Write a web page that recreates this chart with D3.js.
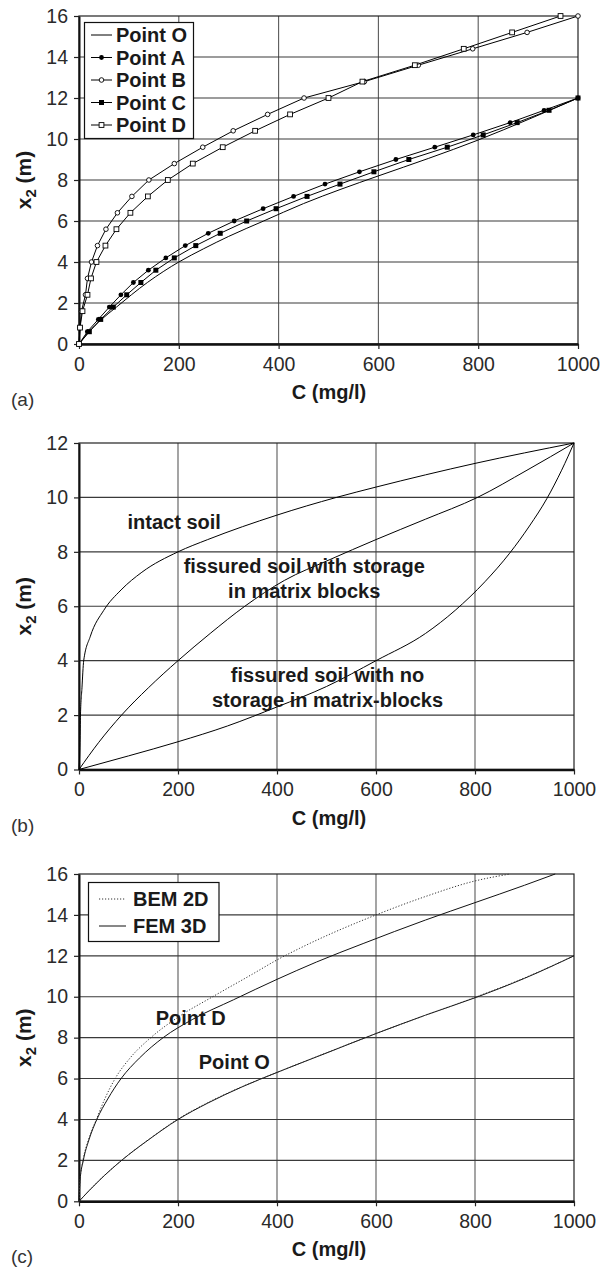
<!DOCTYPE html>
<html>
<head>
<meta charset="utf-8">
<script src="https://cdn.jsdelivr.net/npm/d3@7"></script>
<style>
  body { margin: 0; background: #fff; }
  text { font-family: "Liberation Sans", Arial, sans-serif; }
</style>
</head>
<body>
<svg id="chart"></svg>
<script>
// ---- data ----
const xTicks = [0, 200, 400, 600, 800, 1000];
const yTicks16 = [0, 2, 4, 6, 8, 10, 12, 14, 16];
const yTicks12 = [0, 2, 4, 6, 8, 10, 12];

// (a) five observation points, [C, x2]
const aPointO = [[0,0],[20,0.6],[45,1.2],[75,1.8],[105,2.4],[137,3],[170,3.55],[200,4],[250,4.65],[300,5.25],[370,6],[450,6.85],[525,7.55],[600,8.2],[700,9.05],[800,9.95],[900,10.95],[1000,12]];
const aPointA = [[0,0],[16.7,0.6],[38.7,1.2],[60.7,1.8],[84,2.4],[109,3],[139,3.6],[174,4.2],[213,4.8],[259,5.4],[311,6],[369,6.6],[430,7.2],[493,7.8],[562,8.4],[635,9],[713,9.6],[790,10.2],[864,10.8],[932,11.4],[1000,12]];
const aPointB = [[0,0],[2,0.8],[5,1.6],[13,2.4],[17,3.2],[25,4],[37,4.8],[54,5.6],[77,6.4],[106,7.2],[140,8],[191,8.8],[248,9.6],[309,10.4],[378,11.2],[451,12],[572,12.8],[680,13.6],[789,14.4],[898,15.2],[1000,16]];
const aPointC = [[0,0],[20.7,0.6],[43.5,1.2],[68.7,1.8],[95.6,2.4],[124,3],[154,3.6],[191,4.2],[234,4.8],[283,5.4],[336,6],[395,6.6],[457,7.2],[523,7.8],[591,8.4],[661,9],[738,9.6],[810,10.2],[878,10.8],[942,11.4],[1000,12]];
const aPointD = [[0,0],[2,0.8],[7,1.6],[17,2.4],[24,3.2],[35,4],[53,4.8],[75,5.6],[103,6.4],[138,7.2],[178,8],[228,8.8],[288,9.6],[353,10.4],[423,11.2],[500,12],[568,12.8],[673,13.6],[771,14.4],[868,15.2],[965,16]];
const aNames = ["Point O", "Point A", "Point B", "Point C", "Point D"];

// (b) soil types
const bIntact = [[0,0],[2,1],[3,2],[6,3],[9.5,4],[23,4.9],[50,5.85],[85,6.6],[127,7.25],[200,8],[260,8.45],[400,9.35],[520,10],[600,10.38],[800,11.25],[1000,12]];
const bStorage = [[0,0],[40,1],[86,2],[140,3],[200,4],[265,5],[335,6],[415,6.95],[505,7.7],[600,8.45],[700,9.2],[805,10],[905,11],[1000,12]];
const bNoStorage = [[0,0],[100,0.5],[200,1.02],[300,1.6],[400,2.3],[500,3.05],[600,4],[700,5.0],[760,5.85],[820,6.9],[870,7.95],[910,8.95],[945,9.95],[975,11],[1000,12]];

// (c) BEM 2D vs FEM 3D
const cFemO = [[0,0],[40,1],[86,2],[140,3],[200,4],[260,4.8],[330,5.6],[400,6.3],[500,7.25],[600,8.2],[700,9.1],[800,9.95],[900,10.9],[1000,12]];
const cBemO = [[0,0],[40,1],[86,2],[140,3],[200,4.02],[260,4.82],[330,5.61],[400,6.3],[500,7.26],[600,8.2],[700,9.1],[800,9.97],[900,10.92],[1000,12]];
const cFemD = [[0,0],[2,1],[8.7,2],[20,3],[36,4],[58,5],[85,6],[122,7],[170,8],[230,8.9],[312,9.85],[400,10.85],[480,11.7],[574,12.6],[700,13.75],[800,14.6],[900,15.45],[962,16]];
const cBemD = [[0,0],[2,1],[8,2],[19,3],[35,4],[52,5],[73,6],[103,7],[145,8],[200,9.0],[270,10.0],[350,11.1],[400,11.8],[446,12.37],[600,14.0],[700,14.9],[800,15.66],[871,16]];
const cNames = ["BEM 2D", "FEM 3D"];

// ---- drawing ----
const W = 602, H = 1267;
const svg = d3.select('#chart').attr('width', W).attr('height', H);

function marker(sel, type, cx, cy) {
  if (type === 'dot') {
    sel.append('circle').attr('cx', cx).attr('cy', cy).attr('r', 2.4).attr('fill', '#000');
  } else if (type === 'ocircle') {
    sel.append('circle').attr('cx', cx).attr('cy', cy).attr('r', 2.3)
      .attr('fill', '#fff').attr('stroke', '#000').attr('stroke-width', 0.9);
  } else if (type === 'square') {
    sel.append('rect').attr('x', cx - 2.5).attr('y', cy - 2.5).attr('width', 5).attr('height', 5).attr('fill', '#000');
  } else if (type === 'osquare') {
    sel.append('rect').attr('x', cx - 2.4).attr('y', cy - 2.4).attr('width', 4.8).attr('height', 4.8)
      .attr('fill', '#fff').attr('stroke', '#000').attr('stroke-width', 0.9);
  }
}

function drawPanel(p) {
  const x = d3.scaleLinear().domain([0, 1000]).range([p.left, p.right]);
  const y = d3.scaleLinear().domain([0, p.yMax]).range([p.bottom, p.top]);
  const g = svg.append('g');

  // grid
  g.append('g').selectAll('line').data(xTicks.slice(1, -1)).join('line')
    .attr('x1', d => x(d)).attr('x2', d => x(d)).attr('y1', p.top).attr('y2', p.bottom)
    .attr('stroke', '#5a5a5a').attr('stroke-width', 1.1);
  g.append('g').selectAll('line').data(p.yTicks.slice(1, -1)).join('line')
    .attr('x1', p.left).attr('x2', p.right).attr('y1', d => y(d)).attr('y2', d => y(d))
    .attr('stroke', '#3a3a3a').attr('stroke-width', 1.1);
  g.append('rect').attr('x', p.left).attr('y', p.top)
    .attr('width', p.right - p.left).attr('height', p.bottom - p.top)
    .attr('fill', 'none').attr('stroke', '#222').attr('stroke-width', 1.2);

  // axes
  const xa = g.append('g').attr('transform', `translate(0,${p.bottom})`)
    .call(d3.axisBottom(x).tickValues(xTicks).tickFormat(d3.format('d')).tickSize(5).tickSizeOuter(0).tickPadding(8));
  const ya = g.append('g').attr('transform', `translate(${p.left},0)`)
    .call(d3.axisLeft(y).tickValues(p.yTicks).tickFormat(d3.format('d')).tickSize(5).tickSizeOuter(0).tickPadding(6));
  [xa, ya].forEach(a => {
    a.attr('font-size', 19.5).attr('font-family', '"Liberation Sans", Arial, sans-serif');
    a.selectAll('text').attr('fill', '#2a2a2a');
    a.selectAll('.tick line').attr('stroke', '#222').attr('stroke-width', 1.2);
  });
  xa.select('.domain').attr('stroke', '#111').attr('stroke-width', 2.4);
  ya.select('.domain').attr('stroke', '#111').attr('stroke-width', 2);

  // axis titles
  g.append('text').attr('x', 329).attr('y', p.bottom + 55)
    .attr('text-anchor', 'middle').attr('font-size', 20).attr('font-weight', 'bold').attr('fill', '#1a1a1a')
    .text('C (mg/l)');
  const yt = g.append('text')
    .attr('transform', `translate(31,${(p.top + p.bottom) / 2}) rotate(-90)`)
    .attr('text-anchor', 'middle').attr('font-size', 21).attr('font-weight', 'bold').attr('fill', '#1a1a1a');
  yt.append('tspan').text('x');
  yt.append('tspan').attr('font-size', 15).attr('dy', 5).text('2');
  yt.append('tspan').attr('dy', -5).text(' (m)');

  // panel letter
  g.append('text').attr('x', 11).attr('y', p.bottom + 62)
    .attr('font-family', '"Liberation Serif", "Times New Roman", serif')
    .attr('font-size', 19).attr('fill', '#333').text(p.letter);

  const clip = 'clip-' + p.letter.replace(/\W/g, '');
  svg.append('clipPath').attr('id', clip).append('rect')
    .attr('x', p.left - 4).attr('y', p.top - 4).attr('width', p.right - p.left + 8).attr('height', p.bottom - p.top + 8);
  const plot = g.append('g').attr('clip-path', `url(#${clip})`);

  p.series.forEach(s => {
    const line = d3.line().x(d => x(d[0])).y(d => y(d[1])).curve(s.curve || d3.curveLinear);
    plot.append('path').datum(s.data).attr('d', line)
      .attr('fill', 'none').attr('stroke', s.color || '#000').attr('stroke-width', s.width || 1)
      .attr('stroke-dasharray', s.dash || null);
    if (s.marker) {
      const mg = plot.append('g');
      s.data.forEach(d => marker(mg, s.marker, x(d[0]), y(d[1])));
    }
  });
  return { g, x, y };
}

// ---- panel (a) ----
const seriesA = [
  { name: aNames[0], data: aPointO, curve: d3.curveMonotoneX },
  { name: aNames[1], data: aPointA, marker: 'dot' },
  { name: aNames[2], data: aPointB, marker: 'ocircle' },
  { name: aNames[3], data: aPointC, marker: 'square' },
  { name: aNames[4], data: aPointD, marker: 'osquare' }
];
const pa = drawPanel({ left: 79, right: 578, top: 16, bottom: 344, yMax: 16, yTicks: yTicks16, letter: '(a)', series: seriesA });

const legA = pa.g.append('g');
legA.append('rect').attr('x', 84.5).attr('y', 22.5).attr('width', 109).attr('height', 116)
  .attr('fill', '#fff').attr('stroke', '#111').attr('stroke-width', 1.2);
seriesA.forEach((s, i) => {
  const cy = 35 + i * 22.5;
  legA.append('line').attr('x1', 91).attr('x2', 112).attr('y1', cy).attr('y2', cy).attr('stroke', '#000').attr('stroke-width', 1);
  if (s.marker) marker(legA, s.marker, 101.5, cy);
  legA.append('text').attr('x', 116).attr('y', cy + 7).attr('font-size', 20).attr('font-weight', 'bold')
    .attr('fill', '#1a1a1a').text(s.name);
});

// ---- panel (b) ----
const pb = drawPanel({ left: 79, right: 574, top: 443, bottom: 769.5, yMax: 12, yTicks: yTicks12, letter: '(b)',
  series: [
    { data: bIntact, curve: d3.curveMonotoneX },
    { data: bStorage, curve: d3.curveMonotoneX },
    { data: bNoStorage, curve: d3.curveMonotoneX }
  ] });
const noteB = (txt, cx, cy, anchor) => pb.g.append('text').attr('x', pb.x(cx)).attr('y', pb.y(cy))
  .attr('text-anchor', anchor).attr('font-size', 20).attr('font-weight', 'bold').attr('fill', '#1a1a1a').text(txt);
noteB('intact soil', 98, 8.85, 'start');
noteB('fissured soil with storage', 455, 7.22, 'middle');
noteB('in matrix blocks', 455, 6.29, 'middle');
noteB('fissured soil with no', 502, 3.23, 'middle');
noteB('storage in matrix-blocks', 502, 2.31, 'middle');

// ---- panel (c) ----
const seriesC = [
  { data: cFemO, curve: d3.curveMonotoneX, color: '#111' },
  { data: cFemD, curve: d3.curveMonotoneX, color: '#111' },
  { data: cBemO, curve: d3.curveMonotoneX, dash: '1.2,1.8', color: '#333' },
  { data: cBemD, curve: d3.curveMonotoneX, dash: '1.2,1.8', color: '#333' }
];
const pc = drawPanel({ left: 79, right: 574, top: 874, bottom: 1201.3, yMax: 16, yTicks: yTicks16, letter: '(c)', series: seriesC });

const legC = pc.g.append('g');
legC.append('rect').attr('x', 88.5).attr('y', 882.5).attr('width', 130.5).attr('height', 59)
  .attr('fill', '#fff').attr('stroke', '#111').attr('stroke-width', 1.2);
cNames.forEach((n, i) => {
  const cy = 899 + i * 27;
  legC.append('line').attr('x1', 99).attr('x2', 126).attr('y1', cy).attr('y2', cy)
    .attr('stroke', i === 0 ? '#333' : '#111').attr('stroke-width', 1)
    .attr('stroke-dasharray', i === 0 ? '1.2,1.8' : null);
  legC.append('text').attr('x', 133).attr('y', cy + 7).attr('font-size', 20).attr('font-weight', 'bold')
    .attr('fill', '#1a1a1a').text(n);
});
const noteC = (txt, cx, cy) => pc.g.append('text').attr('x', pc.x(cx)).attr('y', pc.y(cy))
  .attr('font-size', 20).attr('font-weight', 'bold').attr('fill', '#1a1a1a').text(txt);
noteC('Point D', 155, 8.62);
noteC('Point O', 242, 6.47);
</script>
</body>
</html>
